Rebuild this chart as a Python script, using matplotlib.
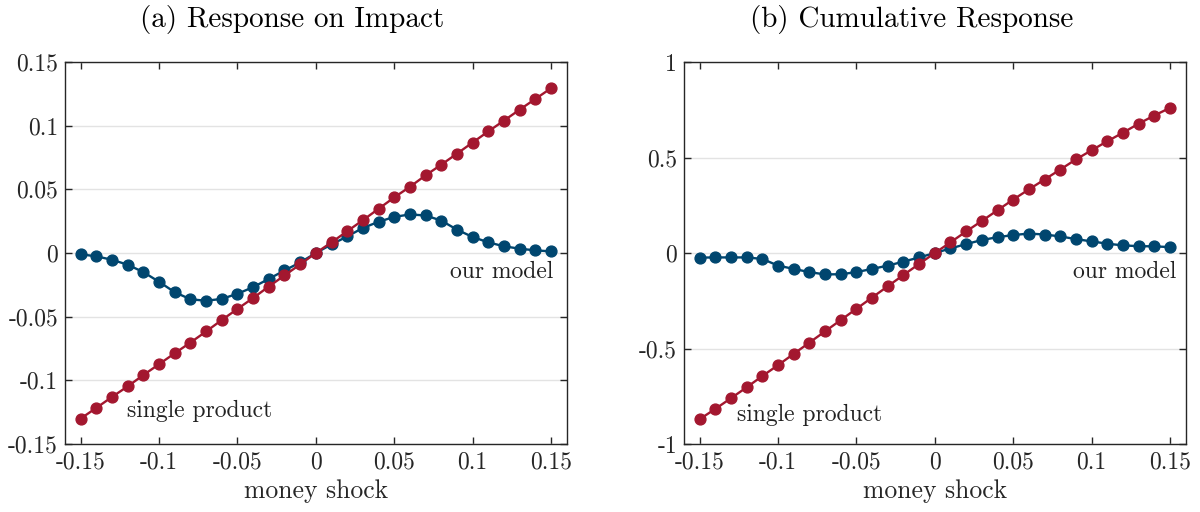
import numpy as np
import matplotlib.pyplot as plt

plt.rcParams['font.family'] = 'serif'
plt.rcParams['font.serif'] = ['cmr10']
plt.rcParams['mathtext.fontset'] = 'cm'
plt.rcParams['axes.unicode_minus'] = False
plt.rcParams['axes.formatter.use_mathtext'] = True

shock = np.round(np.arange(-0.15, 0.1501, 0.01), 2)

impact_model = [-0.001, -0.0026, -0.0053, -0.0092, -0.015, -0.0226, -0.0308, -0.0363,
                -0.0375, -0.036, -0.032, -0.0268, -0.0203, -0.0137, -0.0074, 0.0,
                0.0068, 0.013, 0.0197, 0.0245, 0.0284, 0.0303, 0.0295, 0.0255,
                0.0184, 0.0126, 0.0084, 0.0053, 0.0034, 0.0021, 0.0013]
impact_single = [-0.13, -0.1216, -0.113, -0.1047, -0.0958, -0.0873, -0.0787, -0.0703,
                 -0.0616, -0.0526, -0.0439, -0.0353, -0.0263, -0.0176, -0.0089, 0.0,
                 0.0084, 0.0171, 0.0258, 0.0347, 0.0437, 0.052, 0.061, 0.0694,
                 0.078, 0.0868, 0.0955, 0.104, 0.1126, 0.121, 0.1294]

cum_model = [-0.024, -0.023, -0.023, -0.023, -0.031, -0.066, -0.083, -0.1,
             -0.112, -0.111, -0.1, -0.083, -0.066, -0.045, -0.023, 0.0,
             0.024, 0.047, 0.068, 0.083, 0.094, 0.102, 0.097, 0.087,
             0.073, 0.061, 0.049, 0.040, 0.036, 0.035, 0.031]
cum_single = [-0.87, -0.816, -0.76, -0.703, -0.644, -0.587, -0.528, -0.469,
              -0.41, -0.351, -0.292, -0.233, -0.174, -0.115, -0.057, 0.0,
              0.056, 0.113, 0.168, 0.224, 0.28, 0.333, 0.385, 0.437,
              0.49, 0.538, 0.585, 0.63, 0.677, 0.72, 0.76]

xticks = [-0.15, -0.1, -0.05, 0, 0.05, 0.1, 0.15]
yticks_a = [-0.15, -0.1, -0.05, 0, 0.05, 0.1, 0.15]
yticks_b = [-1, -0.5, 0, 0.5, 1]

blue = '#00466f'
red = '#a3172f'

fig = plt.figure(figsize=(12, 5.12), dpi=100)
ax1 = fig.add_axes([0.0542, 0.1328, 0.418, 0.746])
ax2 = fig.add_axes([0.57, 0.1328, 0.418, 0.746])

panels = [
    (ax1, impact_model, impact_single, yticks_a, (-0.15, 0.15), '(a) Response on Impact',
     (-0.1205, -0.124), (0.1515, -0.015)),
    (ax2, cum_model, cum_single, yticks_b, (-1, 1), '(b) Cumulative Response',
     (-0.1264, -0.849), (0.154, -0.099)),
]

for ax, model, single, yt, ylim, title, pos_s, pos_m in panels:
    ax.plot(shock, model, '-o', color=blue, lw=1.7, ms=7.8, zorder=3)
    ax.plot(shock, single, '-o', color=red, lw=1.7, ms=7.8, zorder=4)
    ax.set_xlim(-0.16, 0.16)
    ax.set_ylim(*ylim)
    ax.set_xticks(xticks)
    ax.set_xticklabels(['%g' % t for t in xticks])
    ax.set_yticks(yt)
    ax.set_yticklabels(['%g' % t for t in yt])
    ax.grid(axis='y', color='#e3e3e3', lw=1.0)
    ax.set_axisbelow(True)
    ax.tick_params(direction='in', top=True, right=True, length=5, width=1,
                   labelsize=17, color='#262626', labelcolor='#262626', pad=5)
    for s in ax.spines.values():
        s.set_color('#262626')
        s.set_linewidth(1.0)
    ax.set_xlabel('money shock', fontsize=18.5, color='#262626', labelpad=4.5)
    ax.set_title(title, fontsize=21, pad=25, x=0.453)
    ax.text(pos_s[0], pos_s[1], 'single product', fontsize=17, ha='left', va='center',
            color='#222222')
    ax.text(pos_m[0], pos_m[1], 'our model', fontsize=17, ha='right', va='center',
            color='#222222')

fig.savefig('out.png', dpi=100)
